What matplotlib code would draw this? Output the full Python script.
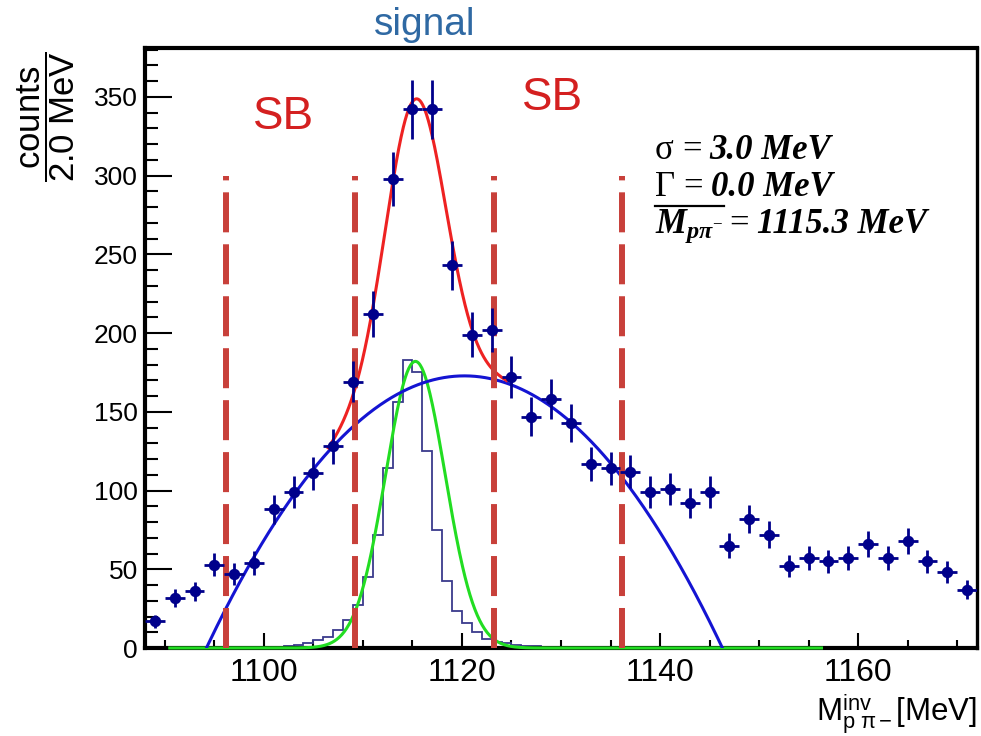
import numpy as np
import matplotlib
matplotlib.use('Agg')
import matplotlib.pyplot as plt
from matplotlib.lines import Line2D
from matplotlib.ticker import MultipleLocator

plt.rcParams['font.family'] = ['Liberation Sans', 'DejaVu Sans']
plt.rcParams['mathtext.fontset'] = 'custom'
plt.rcParams['mathtext.rm'] = 'Liberation Serif'
plt.rcParams['mathtext.it'] = 'Liberation Serif:italic:bold'
plt.rcParams['mathtext.bf'] = 'Liberation Serif:bold'
plt.rcParams['mathtext.sf'] = 'Liberation Sans'

# measured p pi- invariant mass, 2 MeV bins
mass = np.arange(1089, 1172, 2)
counts = np.array([17, 32, 36, 53, 47, 54, 88, 99, 111, 128,
                   169, 212, 298, 342, 342, 243, 199, 202, 172, 147,
                   158, 143, 117, 114, 112, 99, 101, 92, 99, 65,
                   82, 72, 52, 57, 55, 57, 66, 57, 68, 55,
                   48, 37])

# simulated Lambda signal, 1 MeV bins
sim_edges = np.arange(1100, 1132)
sim_counts = np.array([0.3, 0.7, 1.3, 2.0, 3.0, 5.0, 7.2, 11.4, 17.5, 27,
                       45, 72, 114, 156, 183, 175, 125, 75, 42.5, 23.5,
                       16, 10, 6, 4, 3, 2, 1.5, 1, 0.7, 0.4, 0.2])

# fit results
sig_mean = 1115.3
sig_sigma = 3.0
sig_width = 0.0
sig_amp = 182.0
bkg_peak = 172.8
bkg_center = 1120.25
bkg_halfwidth = 26.05
sig_range = (1090.5, 1156.3)
total_range = (1106.5, 1124.5)

# side-band / signal window borders
sb_edges = [1096.2, 1109.2, 1123.2, 1136.2]
sb_top = 300


def gauss(x):
    return sig_amp * np.exp(-0.5 * ((x - sig_mean) / sig_sigma) ** 2)


def bkg(x):
    return bkg_peak * (1 - ((x - bkg_center) / bkg_halfwidth) ** 2)


W, H = 981, 736
fig = plt.figure(figsize=(W / 100, H / 100), dpi=100)
ax = fig.add_axes([145 / W, 1 - 648 / H, (977 - 145) / W, 600 / H])


def fx(px):
    return px / W


def fy(py):
    return 1 - py / H


ax.stairs(sim_counts, sim_edges, color='#3a3a8c', lw=1.3, zorder=2)

xs = np.linspace(sig_range[0], sig_range[1], 800)
ax.plot(xs, gauss(xs), color='#22dd22', lw=2.2, zorder=3, clip_on=False)

xb = np.linspace(1088, 1172, 800)
ax.plot(xb, bkg(xb), color='#1414d2', lw=2.2, zorder=3.2)

xt = np.linspace(total_range[0], total_range[1], 400)
ax.plot(xt, gauss(xt) + bkg(xt), color='#ee2222', lw=2.2, zorder=3.4)

for e in sb_edges:
    ax.plot([e, e], [0, sb_top], color='#c8403a', lw=4.3,
            dashes=(6.7, 2.0), zorder=4)

ax.errorbar(mass, counts, xerr=1.0, yerr=np.sqrt(counts), fmt='o', ms=7.2,
            color='#00008b', ecolor='#00008b', elinewidth=2.0, capsize=0,
            zorder=6)

ax.set_xlim(1088, 1172)
ax.set_ylim(0, 381)
ax.xaxis.set_major_locator(MultipleLocator(20))
ax.xaxis.set_minor_locator(MultipleLocator(5))
ax.yaxis.set_major_locator(MultipleLocator(50))
ax.yaxis.set_minor_locator(MultipleLocator(10))
ax.tick_params(which='both', direction='in', top=False, right=False,
               color='black')
ax.tick_params(axis='y', which='major', length=19.5, width=1.5,
               labelsize=19, pad=5)
ax.tick_params(axis='y', which='minor', length=9.5, width=1.5)
ax.tick_params(axis='x', which='major', length=11, width=1.5,
               labelsize=23, pad=7)
ax.tick_params(axis='x', which='minor', length=5.5, width=1.5)
for side in ['left', 'bottom', 'top']:
    ax.spines[side].set_linewidth(3)
ax.spines['right'].set_linewidth(2.4)

fig.text(fx(46), fy(117), r'$\dfrac{\mathsf{counts}}{\mathsf{2.0\ MeV}}$',
         rotation=90, ha='center', va='center', fontsize=25)
fig.text(fx(977), fy(721),
         r'$\mathsf{M}^{\mathsf{inv}}_{\mathsf{p\ \pi-}}\mathsf{[MeV]}$',
         ha='right', va='baseline', fontsize=22.5)

fig.text(fx(425), fy(35), 'signal', color='#2f69a3', fontsize=28,
         ha='center', va='baseline')
fig.text(fx(284), fy(129), 'SB', color='#d42020', fontsize=33,
         ha='center', va='baseline')
fig.text(fx(553), fy(110), 'SB', color='#d42020', fontsize=33,
         ha='center', va='baseline')

# fit result box, written piece by piece so the numbers can be bold italic
renderer = fig.canvas.get_renderer()
reg = dict(family='Liberation Serif')
bi = dict(family='Liberation Serif', weight='bold', style='italic')


def put_line(x_px, y_px, parts, size=25):
    x = x_px
    for s, kw, gap in parts:
        t = fig.text(fx(x), fy(y_px), s, fontsize=size, ha='left',
                     va='baseline', **kw)
        x += t.get_window_extent(renderer).width + gap
    return x


put_line(655, 159, [('\u03c3', reg, 8), ('=', reg, 8),
                    ('%.1f MeV' % sig_sigma, bi, 0)])
put_line(655, 196, [('\u0393', reg, 8), ('=', reg, 8),
                    ('%.1f MeV' % sig_width, bi, 0)])

# mean mass line: M_{p pi-} with a bar drawn over it
m_end = put_line(655, 233, [(r'$\mathit{M}_{\mathit{p\pi}^{-}}$', {}, 0)])
fig.add_artist(Line2D([fx(655), fx(m_end)], [fy(206), fy(206)],
                      color='black', lw=1.6))
put_line(m_end + 6, 233, [('=', reg, 8), ('%.1f MeV' % sig_mean, bi, 0)])

fig.savefig('out.png', dpi=100, facecolor='white')
